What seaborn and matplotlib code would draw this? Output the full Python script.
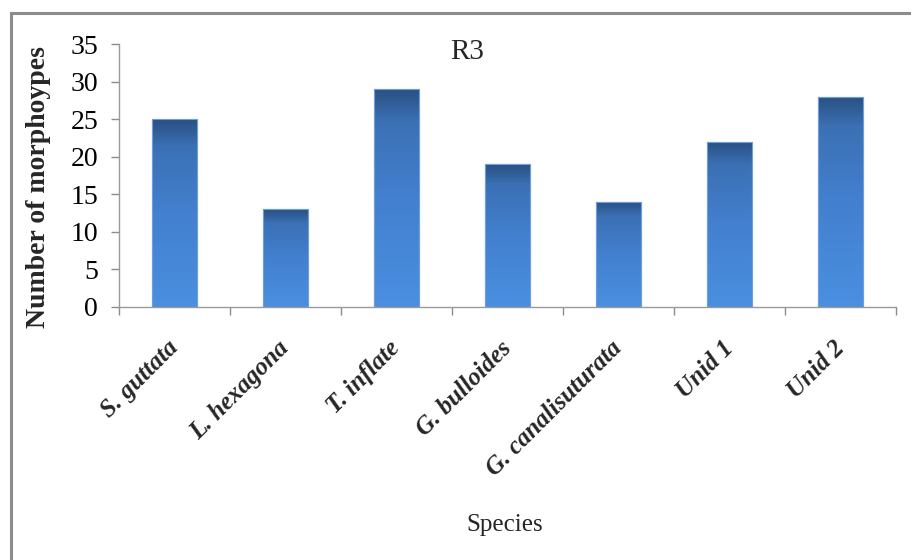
import numpy as np
import pandas as pd
import matplotlib
matplotlib.use("Agg")
import matplotlib.pyplot as plt
import matplotlib.patches as mpatches
from matplotlib.colors import LinearSegmentedColormap
import seaborn as sns

species = ["S. guttata", "L. hexagona", "T. inflate", "G. bulloides",
           "G. canalisuturata", "Unid 1", "Unid 2"]
morphotypes = [25, 13, 29, 19, 14, 22, 28]

df = pd.DataFrame({"Species": species, "Count": morphotypes})

sns.set_theme(style="white")
plt.rcParams["font.family"] = ["Liberation Serif", "DejaVu Serif"]

fig = plt.figure(figsize=(9.12, 5.6), dpi=100)
ax = fig.add_axes([119 / 912, 1 - 307 / 560, (896 - 119) / 912, (307 - 44) / 560])

sns.barplot(data=df, x="Species", y="Count", color="#3f7cc4", width=0.4,
            saturation=1, ax=ax, edgecolor="#6f9fd8", linewidth=0.8)

# vertical gradient fill for each bar: dark cap fading into lighter blue
grad_cmap = LinearSegmentedColormap.from_list(
    "bar_grad",
    [(0.0, "#4a8fe0"), (0.5, "#4380cf"), (0.86, "#3b70b4"),
     (0.93, "#325f99"), (1.0, "#2a5084")])
grad = np.linspace(0, 1, 256).reshape(-1, 1)
for patch in list(ax.patches):
    x0, y0 = patch.get_x(), patch.get_y()
    w, h = patch.get_width(), patch.get_height()
    img = ax.imshow(grad, cmap=grad_cmap, aspect="auto", origin="lower",
                    extent=[x0, x0 + w, y0, y0 + h], zorder=patch.get_zorder() + 0.1)
    img.set_clip_path(patch)
    edge = mpatches.Rectangle((x0, y0), w, h, fill=False, edgecolor="#6f9fd8",
                              linewidth=0.8, zorder=patch.get_zorder() + 0.2)
    ax.add_patch(edge)

ax.set_xlim(-0.5, len(species) - 0.5)
ax.set_ylim(0, 35)
ax.set_yticks(np.arange(0, 36, 5))
ax.tick_params(axis="y", labelsize=20, length=6, width=1, color="#8c8c8c",
               direction="out", left=True, pad=9, labelcolor="black")

# category labels centred under bars, tick marks on the category boundaries
ax.set_xticks(range(len(species)))
ax.set_xticklabels(species, rotation=45, ha="right", va="center",
                   rotation_mode="anchor",
                   fontsize=18, fontweight="bold", fontstyle="italic")
ax.tick_params(axis="x", which="major", length=0, pad=27)
ax.set_xticks(np.arange(-0.5, len(species), 1.0), minor=True)
ax.tick_params(axis="x", which="minor", length=6, width=1, color="#8c8c8c",
               direction="out", bottom=True)

for side in ["top", "right"]:
    ax.spines[side].set_visible(False)
for side in ["left", "bottom"]:
    ax.spines[side].set_color("#9a9a9a")
    ax.spines[side].set_linewidth(1.0)

ax.set_xlabel("")
ax.set_ylabel("Number of morphoypes", fontsize=20, fontweight="bold")
ax.yaxis.set_label_coords(-0.088, 0.456)

fig.text(467 / 912, 1 - 52 / 560, "R3", fontsize=21, ha="center", va="center")
fig.text(505 / 912, 1 - 525 / 560, "Species", fontsize=18, ha="center", va="center")

# outer frame of the chart area
frame = mpatches.Rectangle((11 / 912, -0.1), 1.2, 1.1 - 13 / 560, transform=fig.transFigure,
                           fill=False, edgecolor="#8c8c8c", linewidth=2.2, clip_on=False)
fig.patches.append(frame)

fig.savefig("out.png", dpi=100, facecolor="white")
